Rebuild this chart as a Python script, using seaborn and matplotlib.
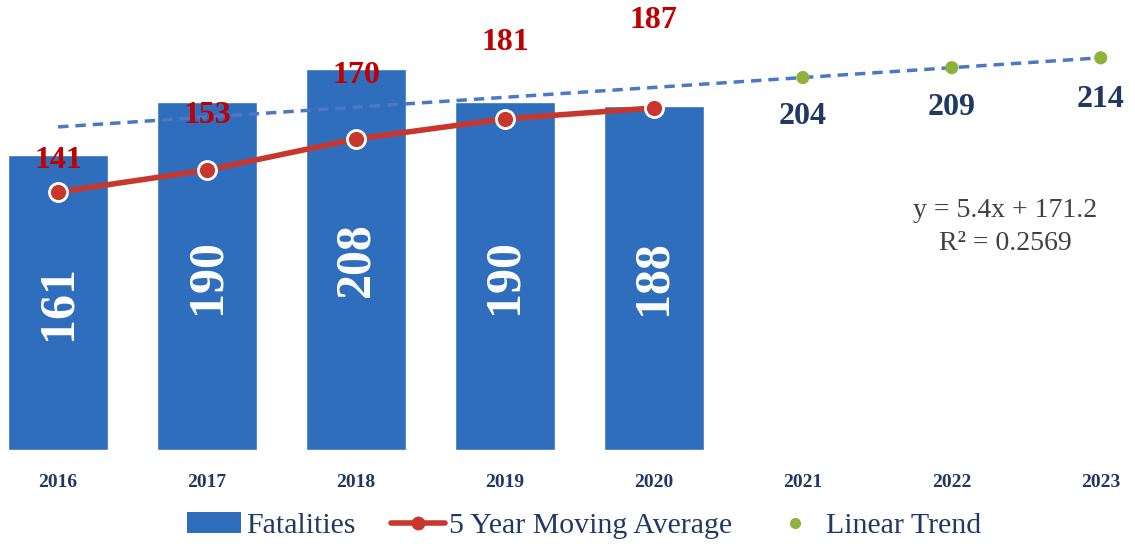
import numpy as np
import pandas as pd
import seaborn as sns
import matplotlib.pyplot as plt
from matplotlib.patches import Patch
from matplotlib.lines import Line2D

# data
years = ['2016', '2017', '2018', '2019', '2020', '2021', '2022', '2023']
fatalities = [161, 190, 208, 190, 188]
moving_avg = [141, 153, 170, 181, 187]
trend_years = ['2021', '2022', '2023']
trend_labels = [204, 209, 214]
slope, intercept, r2 = 5.4, 171.2, 0.2569

bar_col = '#2F6EBD'
red = '#C8372D'
navy = '#1F3864'
dash_col = '#4A78C4'
green = '#8DB33A'

sns.set_theme(style='white')
plt.rcParams['font.family'] = ['Liberation Serif', 'DejaVu Serif']

fig = plt.figure(figsize=(11.35, 5.46), dpi=100)
ax = fig.add_axes([0, 0.176, 1, 0.824])

bars = pd.DataFrame({'year': years[:len(fatalities)], 'value': fatalities})
sns.barplot(data=bars, x='year', y='value', order=years, color=bar_col,
            width=0.67, saturation=1, ax=ax)

# bar value labels (white, rotated)
for i, v in enumerate(fatalities):
    ax.text(i, v / 2, str(v), rotation=90, ha='center', va='center',
            color='white', fontsize=36, fontweight='bold')

# linear trend, dashed across all years
xs = np.arange(len(years))
trend = slope * (xs + 1) + intercept
sns.lineplot(x=xs, y=trend, ax=ax, color=dash_col, lw=2.5, linestyle=(0, (3, 2)))

# trend points for the forecast years
tx = [years.index(y) for y in trend_years]
sns.scatterplot(x=tx, y=trend[tx], ax=ax, color=green, s=90, edgecolor='none', zorder=5)
for x, lab, off in zip(tx, trend_labels, [-28, -29, -30]):
    ax.annotate(str(lab), (x, slope * (x + 1) + intercept), xytext=(0, off),
                textcoords='offset points', ha='center', va='center',
                color=navy, fontsize=23, fontweight='bold')

# 5 year moving average
ma_x = np.arange(len(moving_avg))
sns.lineplot(x=ma_x, y=moving_avg, ax=ax, color=red, lw=4, marker='o',
             markersize=13, markerfacecolor=red, markeredgecolor='white',
             markeredgewidth=2, zorder=6)
label_off = [23, 39, 46, 55, 63]
for x, v, off in zip(ma_x, moving_avg, label_off):
    ax.annotate(str(v), (x, v), xytext=(0, off), textcoords='offset points',
                ha='center', va='center', color='#C00000', fontsize=23,
                fontweight='bold')

ax.text(6.36, 122, f'y = {slope}x + {intercept}\nR² = {r2}', ha='center',
        va='center', fontsize=20, color='#404040', linespacing=1.4)

ax.set_xlim(-0.39, 7.23)
ax.set_ylim(0, 246)
ax.set_xlabel('')
ax.set_ylabel('')
ax.set_yticks([])
ax.set_xticks(xs)
ax.set_xticklabels(years, fontsize=14, fontweight='bold', color=navy)
ax.tick_params(axis='x', length=0, pad=17)
sns.despine(ax=ax, left=True, bottom=True)

handles = [
    Patch(facecolor=bar_col, edgecolor='none'),
    Line2D([], [], color=red, lw=4, marker='o', markersize=9,
           markerfacecolor=red, markeredgecolor=red),
    Line2D([], [], color='none', marker='o', markersize=8,
           markerfacecolor=green, markeredgecolor='none'),
]
fig.legend(handles, ['Fatalities', '5 Year Moving Average', 'Linear Trend'],
           loc='center', bbox_to_anchor=(0.515, 0.037), ncol=3, frameon=False,
           fontsize=21.5, labelcolor=navy, handlelength=1.8, handleheight=0.7,
           columnspacing=1.2, handletextpad=0.15)

fig.savefig('out.png', dpi=100)
